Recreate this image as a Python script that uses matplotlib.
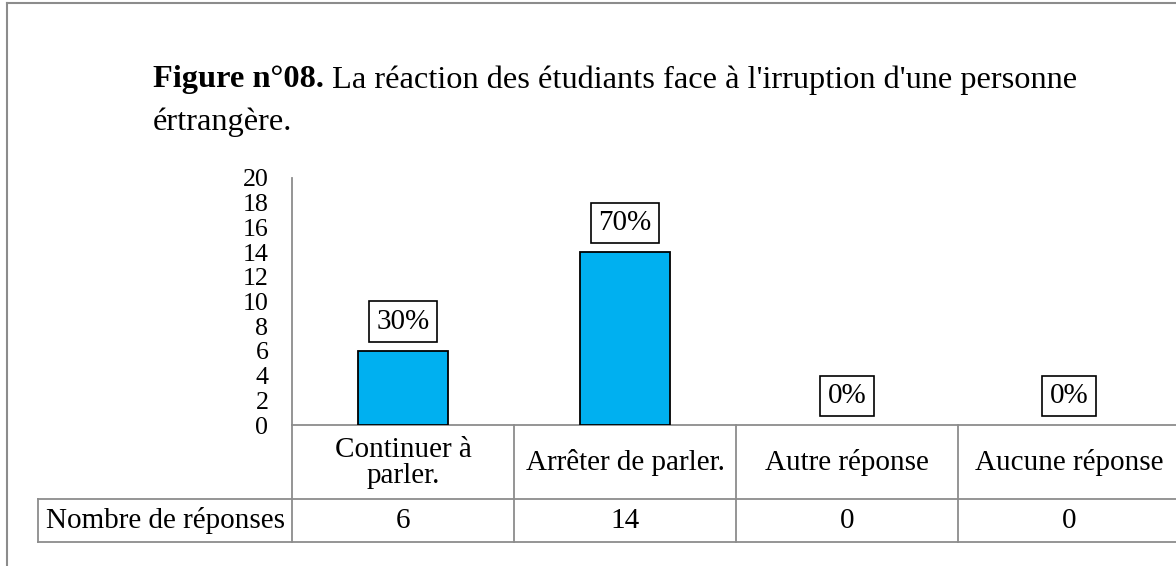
import matplotlib
matplotlib.use("Agg")
import matplotlib.pyplot as plt
from matplotlib.lines import Line2D
from matplotlib.transforms import blended_transform_factory

plt.rcParams['font.family'] = ['Liberation Serif', 'DejaVu Serif']

categories = ["Continuer à\nparler.", "Arrêter de parler.", "Autre réponse", "Aucune réponse"]
values = [6, 14, 0, 0]
pct_labels = ["30%", "70%", "0%", "0%"]
yticks = list(range(0, 21, 2))
row_header = "Nombre de réponses"
title_bold = "Figure n°08."
title_rest = " La réaction des étudiants face à l'irruption d'une personne"
title_line2 = "értrangère."

W, H = 1176, 566
fig = plt.figure(figsize=(W / 100, H / 100), dpi=100)

def fx(px):
    return px / W

def fy(py):
    return 1 - py / H

FS = 21
TFS = 23.3

# outer frame (left and top edges visible)
gray = "#8c8c8c"
fig.add_artist(Line2D([fx(7), fx(7)], [fy(3), fy(H + 5)], color=gray, lw=1.5))
fig.add_artist(Line2D([fx(7), fx(W + 5)], [fy(3), fy(3)], color=gray, lw=1.5))

ax_left, ax_right = 292, 1180
ax_top, ax_bot = 178, 425
ax = fig.add_axes([fx(ax_left), fy(ax_bot), fx(ax_right - ax_left), (ax_bot - ax_top) / H])

x = list(range(len(categories)))
lws = [1.3 if v > 0 else 0 for v in values]
ax.bar(x, values, width=0.405, color="#00B0F0", edgecolor="black", linewidth=lws, zorder=3)
ax.set_xlim(-0.5, len(categories) - 0.5)
ax.set_ylim(0, 20)
ax.set_yticks(yticks)
ax.set_yticklabels([str(t) for t in yticks], fontsize=18.7)
ax.tick_params(axis='y', length=0, pad=17)
ax.tick_params(axis='x', length=0, labelbottom=False)
for s in ["top", "right"]:
    ax.spines[s].set_visible(False)
ax.spines["left"].set_color(gray)
ax.spines["bottom"].set_color(gray)
ax.spines["left"].set_linewidth(1.3)
ax.spines["bottom"].set_linewidth(1.3)

for xi, v, lab in zip(x, values, pct_labels):
    ax.annotate(lab, (xi, v), xytext=(0, 21), textcoords="offset points",
                ha="center", va="center", fontsize=FS,
                bbox=dict(boxstyle="square,pad=0.25", fc="white", ec="black", lw=1.2))

# data table below the axis
tr = blended_transform_factory(ax.transData, fig.transFigure)
row1_bot = 499
row2_bot = 542
header_left_px = 38
xmin_data = -0.5
px_per_unit = (ax_right - ax_left) / len(categories)
header_left = xmin_data + (header_left_px - ax_left) / px_per_unit
xmax = len(categories) - 0.5

for b in [i - 0.5 for i in range(len(categories) + 1)]:
    fig.add_artist(Line2D([b, b], [fy(ax_bot), fy(row2_bot)], transform=tr, color=gray, lw=1.3))
fig.add_artist(Line2D([header_left, xmax], [fy(row1_bot), fy(row1_bot)], transform=tr, color=gray, lw=1.3))
fig.add_artist(Line2D([header_left, xmax], [fy(row2_bot), fy(row2_bot)], transform=tr, color=gray, lw=1.3))
fig.add_artist(Line2D([header_left, header_left], [fy(row1_bot), fy(row2_bot)], transform=tr, color=gray, lw=1.3))

cy1 = fy((ax_bot + row1_bot) / 2 + 1)
cy2 = fy((row1_bot + row2_bot) / 2)
for xi, c, v in zip(x, categories, values):
    fig.text(0, 0, c, transform=tr, fontsize=FS, ha="center", va="center",
             multialignment="center", linespacing=1.0).set_position((xi, cy1))
    fig.text(0, 0, str(v), transform=tr, fontsize=FS, ha="center", va="center").set_position((xi, cy2))
fig.text((header_left + xmin_data) / 2, cy2, row_header, transform=tr, fontsize=FS,
         ha="center", va="center")

# title
t1 = fig.text(fx(153), fy(80), title_bold, fontsize=TFS, fontweight="bold", ha="left", va="center")
fig.canvas.draw()
bb = t1.get_window_extent()
fig.text(bb.x1 / W, fy(80), title_rest, fontsize=TFS, ha="left", va="center")
fig.text(fx(153), fy(122), title_line2, fontsize=TFS, ha="left", va="center")

fig.savefig("out.png", dpi=100, facecolor="white")
